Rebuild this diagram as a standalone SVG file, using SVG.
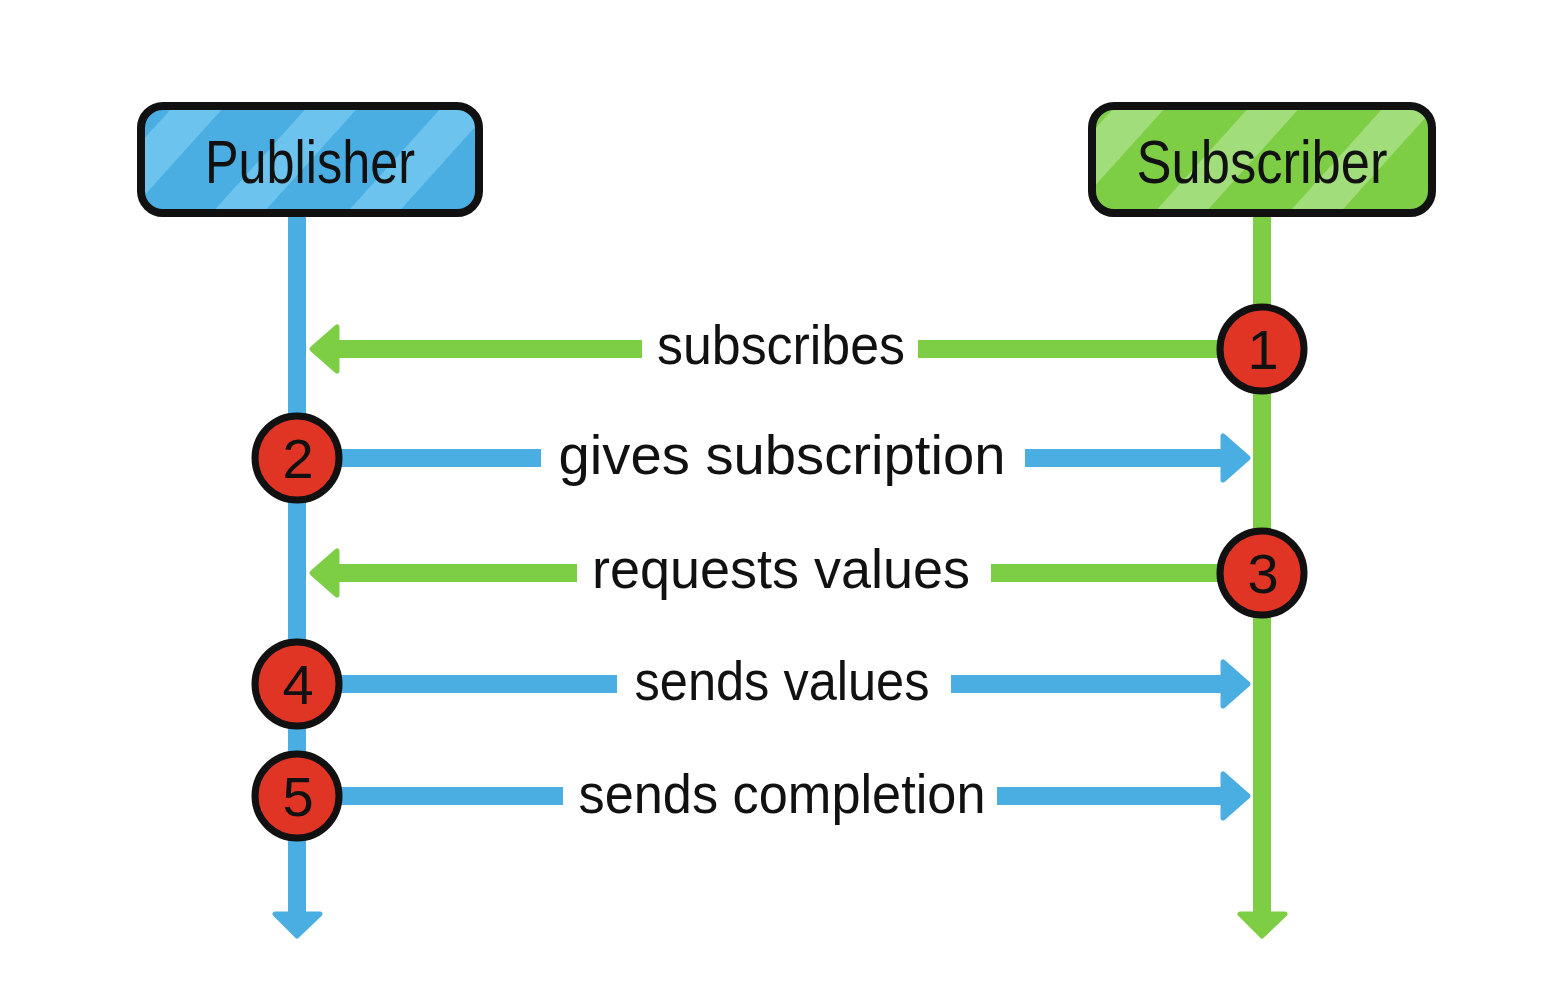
<svg xmlns="http://www.w3.org/2000/svg" width="1550" height="1008" viewBox="0 0 1550 1008">
  <defs>
    <pattern id="stripesBlue" patternUnits="userSpaceOnUse" width="100" height="100" patternTransform="rotate(42)">
      <rect width="100" height="100" fill="#4aaee3"/>
      <rect x="0" y="0" width="38" height="100" fill="#6cc4ee"/>
    </pattern>
    <pattern id="stripesGreen" patternUnits="userSpaceOnUse" width="100" height="100" patternTransform="rotate(42)">
      <rect width="100" height="100" fill="#7dcd45"/>
      <rect x="0" y="0" width="38" height="100" fill="#a2dd7c"/>
    </pattern>
    <style>
      .lbl { font-family: "Liberation Sans", "DejaVu Sans", sans-serif; font-size: 56px; fill: #111; text-anchor: middle; }
      .title { font-family: "Liberation Sans", "DejaVu Sans", sans-serif; font-size: 62px; fill: #111; text-anchor: middle; }
      .num { font-family: "Liberation Sans", "DejaVu Sans", sans-serif; font-size: 56px; fill: #111; text-anchor: middle; }
      .box { stroke: #111; stroke-width: 8; }
      .blue { stroke: #4aaee3; stroke-width: 18; fill: none; }
      .green { stroke: #7dcd45; stroke-width: 18; fill: none; }
      .headB { fill: #4aaee3; stroke: #4aaee3; stroke-width: 5; stroke-linejoin: round; }
      .headG { fill: #7dcd45; stroke: #7dcd45; stroke-width: 5; stroke-linejoin: round; }
      .badge { fill: #e03524; stroke: #111; stroke-width: 7; }
    </style>
  </defs>
  <rect width="1550" height="1008" fill="#ffffff"/>

  <g id="connectors">
    <!-- lifelines -->
    <line class="blue" x1="297" y1="212" x2="297" y2="915"/>
    <polygon class="headB" points="275,914 320,914 297,936"/>
    <line class="green" x1="1262" y1="212" x2="1262" y2="915"/>
    <polygon class="headG" points="1240,914 1285,914 1262,936"/>

    <!-- 1 subscribes -->
    <line class="green" x1="1262" y1="349" x2="918" y2="349"/>
    <line class="green" x1="642" y1="349" x2="330" y2="349"/>
    <polygon class="headG" points="312,349 337,327 337,371"/>
    <!-- 2 gives subscription -->
    <line class="blue" x1="297" y1="458" x2="541" y2="458"/>
    <line class="blue" x1="1025" y1="458" x2="1230" y2="458"/>
    <polygon class="headB" points="1248,458 1223,436 1223,480"/>
    <!-- 3 requests values -->
    <line class="green" x1="1262" y1="573" x2="991" y2="573"/>
    <line class="green" x1="577" y1="573" x2="330" y2="573"/>
    <polygon class="headG" points="312,573 337,551 337,595"/>
    <!-- 4 sends values -->
    <line class="blue" x1="297" y1="684" x2="617" y2="684"/>
    <line class="blue" x1="951" y1="684" x2="1230" y2="684"/>
    <polygon class="headB" points="1248,684 1223,662 1223,706"/>
    <!-- 5 sends completion -->
    <line class="blue" x1="297" y1="796" x2="563" y2="796"/>
    <line class="blue" x1="997" y1="796" x2="1230" y2="796"/>
    <polygon class="headB" points="1248,796 1223,774 1223,818"/>
  </g>

  <g id="labels">
    <text class="lbl" x="781" y="364" textLength="248" lengthAdjust="spacingAndGlyphs">subscribes</text>
    <text class="lbl" x="782" y="474" textLength="447" lengthAdjust="spacingAndGlyphs">gives subscription</text>
    <text class="lbl" x="781" y="588" textLength="378" lengthAdjust="spacingAndGlyphs">requests values</text>
    <text class="lbl" x="782" y="700" textLength="295" lengthAdjust="spacingAndGlyphs">sends values</text>
    <text class="lbl" x="782" y="813" textLength="407" lengthAdjust="spacingAndGlyphs">sends completion</text>
  </g>

  <g id="publisher">
    <rect class="box" x="141" y="106" width="338" height="107" rx="22" fill="url(#stripesBlue)"/>
    <text class="title" x="310" y="183" textLength="210" lengthAdjust="spacingAndGlyphs">Publisher</text>
  </g>

  <g id="subscriber">
    <rect class="box" x="1092" y="106" width="340" height="107" rx="22" fill="url(#stripesGreen)"/>
    <text class="title" x="1262" y="183" textLength="251" lengthAdjust="spacingAndGlyphs">Subscriber</text>
  </g>

  <g id="step1">
    <circle class="badge" cx="1262" cy="349" r="42"/>
    <text class="num" x="1263" y="369">1</text>
  </g>
  <g id="step2">
    <circle class="badge" cx="297" cy="458" r="42"/>
    <text class="num" x="298" y="478">2</text>
  </g>
  <g id="step3">
    <circle class="badge" cx="1262" cy="573" r="42"/>
    <text class="num" x="1263" y="593">3</text>
  </g>
  <g id="step4">
    <circle class="badge" cx="297" cy="684" r="42"/>
    <text class="num" x="298" y="704">4</text>
  </g>
  <g id="step5">
    <circle class="badge" cx="297" cy="796" r="42"/>
    <text class="num" x="298" y="816">5</text>
  </g>
</svg>
